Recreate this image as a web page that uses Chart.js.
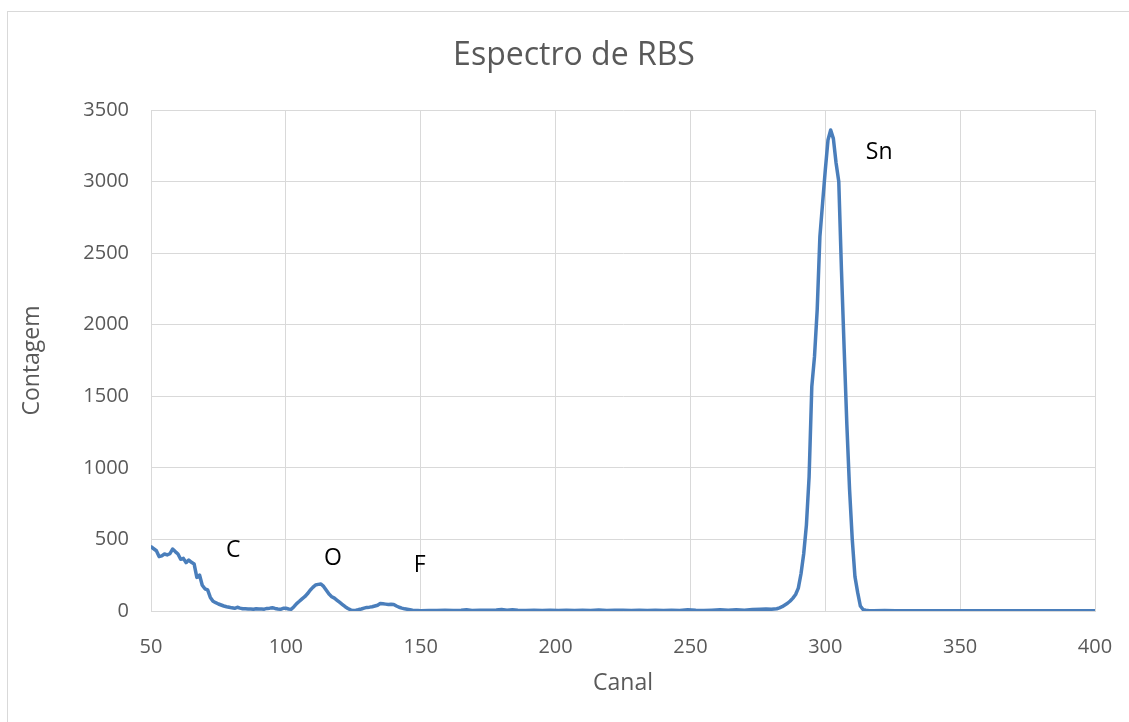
<!DOCTYPE html>
<html>
<head>
<meta charset="utf-8">
<script src="https://cdn.jsdelivr.net/npm/chart.js@4.4.1/dist/chart.umd.min.js"></script>
<style>
  html, body { margin: 0; padding: 0; background: #ffffff; }
  #wrap { position: relative; width: 1129px; height: 722px; }
  canvas { display: block; }
</style>
</head>
<body>
<div id="wrap"><canvas id="c" width="1129" height="722"></canvas></div>
<script>
// RBS spectrum: channel numbers and counts
const canal = [
  50, 51, 52, 53, 54, 55, 56, 57, 58, 59,
  60, 61, 62, 63, 64, 65, 66, 67, 68, 69,
  70, 71, 72, 73, 74, 75, 76, 77, 78, 79,
  80, 81, 82, 83, 84, 85, 86, 87, 88, 89,
  90, 91, 92, 93, 94, 95, 96, 97, 98, 99,
  100, 101, 102, 103, 104, 105, 106, 107, 108, 109,
  110, 111, 112, 113, 114, 115, 116, 117, 118, 119,
  120, 121, 122, 123, 124, 125, 126, 127, 128, 129,
  130, 131, 132, 133, 134, 135, 136, 137, 138, 139,
  140, 141, 142, 143, 144, 145, 146, 147, 148, 149,
  150, 153, 156, 159, 162, 165, 167, 169, 172, 175,
  178, 180, 182, 184, 186, 189, 192, 195, 198, 201,
  204, 207, 210, 213, 216, 219, 222, 225, 228, 231,
  234, 237, 240, 243, 246, 249, 252, 255, 258, 261,
  264, 267, 270, 273, 276, 278, 280, 282,
  283, 284, 285, 286, 287, 288, 289, 290, 291, 292,
  293, 294, 295, 296, 297, 298, 299, 300, 301, 302,
  303, 304, 305, 306, 307, 308, 309, 310, 311, 312,
  313, 314, 315, 316, 318, 322, 326, 330, 335, 340,
  345, 350, 355, 360, 365, 370, 375, 380, 385, 390,
  395, 400
];

const contagem = [
  449, 435, 421, 380, 385, 398, 392, 400, 433, 415,
  398, 361, 368, 338, 356, 340, 328, 235, 251, 180,
  155, 147, 95, 68, 58, 49, 42, 35, 30, 26,
  22, 19, 26, 20, 16, 15, 14, 14, 12, 16,
  14, 14, 13, 18, 20, 23, 18, 14, 12, 19,
  19, 14, 12, 30, 52, 68, 85, 100, 120, 145,
  165, 182, 186, 189, 172, 145, 118, 100, 90, 75,
  60, 45, 30, 18, 8, 3, 5, 10, 14, 20,
  25, 27, 30, 35, 40, 52, 50, 48, 46, 47,
  46, 35, 26, 20, 15, 12, 9, 6, 4, 3,
  2, 4, 3, 6, 4, 5, 9, 4, 6, 5,
  7, 10, 6, 9, 5, 4, 6, 3, 5, 4,
  6, 3, 5, 4, 7, 3, 5, 6, 4, 5,
  3, 6, 4, 5, 3, 8, 5, 4, 6, 9,
  5, 8, 6, 10, 12, 14, 12, 16,
  22, 30, 42, 54, 70, 90, 115, 160, 260, 400,
  600, 938, 1567, 1777, 2103, 2615, 2850, 3080, 3290, 3360,
  3300, 3130, 3000, 2380, 1830, 1300, 850, 500, 240, 130,
  35, 10, 5, 3, 2, 3, 2, 2, 1, 2,
  1, 1, 1, 1, 1, 1, 1, 1, 1, 1,
  1, 1
];

const titulo = 'Espectro de RBS';

// Element labels placed next to their peaks
const rotulos = ['C', 'O', 'F', 'Sn'];
const rotuloCanal = [80.5, 117.5, 149.6, 320];
const rotuloContagem = [426, 370, 321, 3200];

const yTicks = [0, 500, 1000, 1500, 2000, 2500, 3000, 3500];

const pontos = canal.map((x, i) => ({ x: x, y: contagem[i] }));

const FONT = "'Open Sans', 'Liberation Sans', sans-serif";
const GRID = '#d9d9d9';
const TXT = '#595959';

// White background, outer frame and the chart title centred on the frame
const moldura = {
  id: 'moldura',
  beforeDraw(chart) {
    const ctx = chart.ctx;
    ctx.save();
    ctx.fillStyle = '#ffffff';
    ctx.fillRect(0, 0, chart.width, chart.height);
    ctx.strokeStyle = GRID;
    ctx.lineWidth = 1;
    ctx.strokeRect(7.5, 11.5, chart.width + 20, chart.height + 20);
    ctx.fillStyle = TXT;
    ctx.font = "32px " + FONT;
    ctx.textAlign = 'center';
    ctx.textBaseline = 'middle';
    ctx.fillText(titulo, 574, 56);
    ctx.restore();
  }
};

const etiquetas = {
  id: 'etiquetas',
  afterDatasetsDraw(chart) {
    const ctx = chart.ctx;
    const xs = chart.scales.x, ys = chart.scales.y;
    ctx.save();
    ctx.fillStyle = '#000000';
    ctx.font = "23px " + FONT;
    ctx.textAlign = 'center';
    ctx.textBaseline = 'middle';
    rotulos.forEach((t, i) => {
      ctx.fillText(t, xs.getPixelForValue(rotuloCanal[i]), ys.getPixelForValue(rotuloContagem[i]));
    });
    ctx.restore();
  }
};

new Chart(document.getElementById('c'), {
  type: 'scatter',
  data: {
    datasets: [{
      data: pontos,
      showLine: true,
      borderColor: '#4a7ebb',
      backgroundColor: '#4a7ebb',
      borderWidth: 3.5,
      pointRadius: 0,
      tension: 0,
      borderJoinStyle: 'round',
      borderCapStyle: 'round'
    }]
  },
  options: {
    responsive: false,
    animation: false,
    devicePixelRatio: 1,
    layout: { padding: { left: 0, right: 34, top: 110, bottom: 0 } },
    plugins: {
      legend: { display: false },
      tooltip: { enabled: false },
      title: { display: false }
    },
    scales: {
      x: {
        type: 'linear',
        min: 50,
        max: 400,
        ticks: { stepSize: 50, color: TXT, padding: 24, font: { family: FONT, size: 20 }, maxRotation: 0,
                 callback: v => String(v) },
        grid: { color: GRID, lineWidth: 1, drawTicks: false },
        border: { color: GRID, width: 1 },
        title: { display: true, text: 'Canal', color: TXT, font: { family: FONT, size: 23 }, padding: { top: 25, bottom: 25 } },
        afterFit(s) { s.height = 111; s.paddingLeft = 0; s.paddingRight = 0; }
      },
      y: {
        type: 'linear',
        min: 0,
        max: 3500,
        afterBuildTicks(s) { s.ticks = yTicks.map(v => ({ value: v })); },
        ticks: { color: TXT, padding: 22, font: { family: FONT, size: 20 }, callback: v => String(v) },
        grid: { color: GRID, lineWidth: 1, drawTicks: false },
        border: { color: GRID, width: 1 },
        title: { display: true, text: 'Contagem', color: TXT, font: { family: FONT, size: 23 }, padding: { top: 19, bottom: 19 } },
        afterFit(s) { s.width = 151; s.paddingTop = 0; s.paddingBottom = 0; }
      }
    }
  },
  plugins: [moldura, etiquetas]
});
</script>
</body>
</html>
